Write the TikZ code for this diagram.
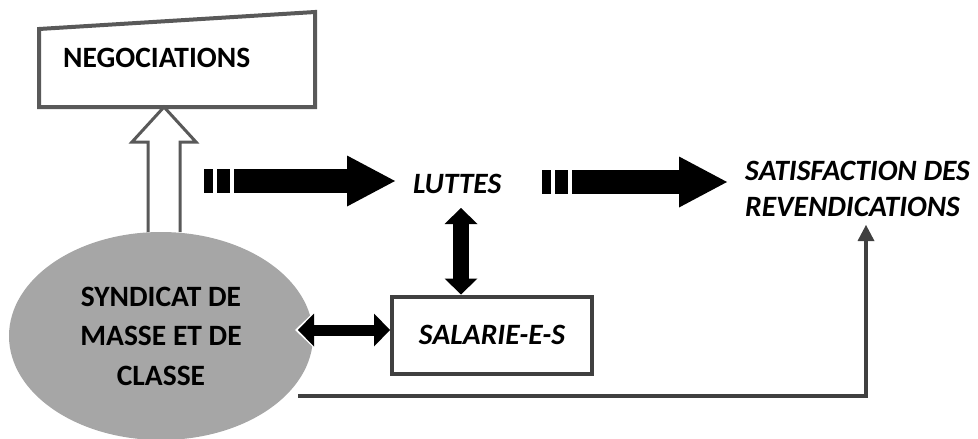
\documentclass[tikz,border=0pt]{standalone}
\usepackage{fontspec}
\setmainfont{Carlito}
\usetikzlibrary{arrows.meta,positioning,shapes.geometric}
\definecolor{boxgray}{HTML}{595959}
\definecolor{linegray}{HTML}{404040}
\definecolor{ellgray}{HTML}{A6A6A6}

\tikzset{
  lbl/.style={font=\fontsize{29.5}{36}\selectfont\bfseries, inner sep=0pt},
  ilbl/.style={font=\fontsize{29.5}{36}\selectfont\bfseries\itshape, inner sep=0pt},
  fatarrow/.style={line width=24pt, shorten >=18pt,
    dash pattern=on 9pt off 4pt on 13pt off 4pt on 600pt,
    -{Triangle[length=48pt,width=51pt,line width=0pt]}},
  dbltip/.style={Triangle[length=#1,width=33pt,line width=0pt]},
  dblarrow/.style={line width=#1pt, {Triangle[length=16pt,width=33pt,line width=0pt]}-{Triangle[length=16pt,width=33pt,line width=0pt]}},
  feedback/.style={draw=linegray, line width=4pt,
    -{Triangle[length=16pt,width=17pt,line width=0pt]}}
}

\begin{document}
\begin{tikzpicture}[x=1pt,y=-1pt]
  \useasboundingbox (0,0) rectangle (978,439);

  % Negotiation box
  \draw[boxgray, line width=4pt] (39,107) -- (39,29) -- (315,12) -- (315,107) -- cycle;
  \node[lbl, anchor=base west] (nego) at (63,67) {NEGOCIATIONS};
  \coordinate (negobot) at (164,107);

  % Hollow arrow up to the box
  \coordinate (upfoot) at (164,232);
  \draw[boxgray, fill=white, line width=3pt]
    ([xshift=-16pt]upfoot) -- ([xshift=-16pt,yshift=90pt]upfoot)
    -- ([xshift=-32pt,yshift=90pt]upfoot) -- (negobot)
    -- ([xshift=32pt,yshift=90pt]upfoot) -- ([xshift=16pt,yshift=90pt]upfoot)
    -- ([xshift=16pt]upfoot);

  % Union
  \node[ellipse, fill=ellgray, minimum width=304pt, minimum height=208pt,
    lbl, align=center, font=\fontsize{29.5}{39.5}\selectfont\bfseries]
    (syn) at (161,336) {SYNDICAT DE\\MASSE ET DE\\CLASSE};

  % Right side
  \node[ilbl, anchor=base west] (luttes) at (413,193) {LUTTES};
  \node[ilbl, anchor=north west, align=left] (satis) at (745,161)
    {SATISFACTION DES\\REVENDICATIONS};
  \node[ilbl, draw=linegray, line width=4pt, minimum width=200pt,
    minimum height=77pt] (sal) at (492,335) {SALARIE-E-S};

  % Thick arrows
  \coordinate (a1s) at (204,181);
  \coordinate (a2s) at (542,182);
  \draw[fatarrow] (a1s) -- (a1s -| luttes.west);
  \draw[fatarrow] (a2s) -- (a2s -| satis.west);

  % Double arrows
  \coordinate (vt) at (461,208);
  \draw[dblarrow=16] (vt) -- (vt |- sal.north);
  \coordinate (ht) at (298,330);
  \draw[white, line width=15pt, {Triangle[length=20pt,width=38pt,line width=0pt]}-]
    ([xshift=-3pt]ht) -- ([xshift=40pt]ht);
  \draw[dblarrow=11] (ht) -- (ht -| sal.west);

  % Feedback line
  \coordinate (fbstart) at (298,396);
  \coordinate (fbend) at (866,225);
  \draw[feedback] (fbstart) -| (fbend);
\end{tikzpicture}
\end{document}
